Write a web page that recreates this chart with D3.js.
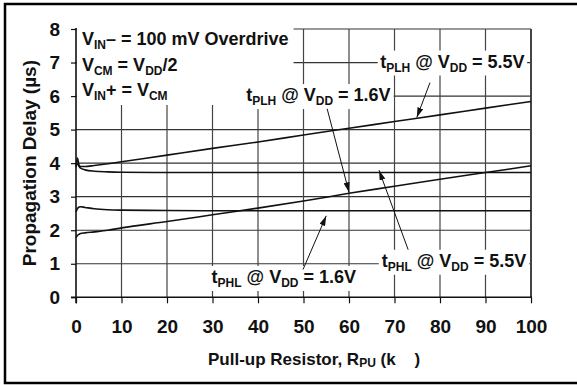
<!DOCTYPE html>
<html>
<head>
<meta charset="utf-8">
<script src="https://cdn.jsdelivr.net/npm/d3@7"></script>
<style>
  body { margin: 0; background: #fff; }
  text { font-family: "Liberation Sans", Arial, sans-serif; font-weight: bold; fill: #111; }
</style>
</head>
<body>
<script>
/* Chart data */
var rpu = [0, 0.3, 0.7, 1, 2, 4, 7, 10, 20, 30, 40, 50, 60, 70, 80, 90, 100];
var tplh55 = [3.88, 4.15, 3.93, 3.9, 3.9, 3.93, 3.98, 4.04, 4.24, 4.44, 4.63, 4.84, 5.04, 5.24, 5.44, 5.64, 5.84];
var tphl55 = [4.0, 3.98, 3.9, 3.85, 3.8, 3.76, 3.74, 3.73, 3.72, 3.72, 3.72, 3.72, 3.72, 3.72, 3.72, 3.72, 3.72];
var tplh16 = [1.78, 1.84, 1.88, 1.9, 1.92, 1.95, 2.0, 2.07, 2.26, 2.46, 2.66, 2.87, 3.1, 3.31, 3.52, 3.72, 3.92];
var tphl16 = [2.55, 2.64, 2.69, 2.7, 2.68, 2.64, 2.61, 2.6, 2.59, 2.58, 2.58, 2.58, 2.58, 2.58, 2.58, 2.58, 2.58];
var xTicks = [0, 10, 20, 30, 40, 50, 60, 70, 80, 90, 100];
var yTicks = [0, 1, 2, 3, 4, 5, 6, 7, 8];

/* Display setup */
var width = 577, height = 385,
	plot = {left: 76, right: 531, top: 29, bottom: 297.3},
	x = d3.scaleLinear().domain([0, 100]).range([plot.left, plot.right]),
	y = d3.scaleLinear().domain([0, 8]).range([plot.bottom, plot.top]),
	svg = d3.select("body").append("svg")
		.attr("width", width)
		.attr("height", height);

// outer frame (right side runs off the picture)
svg.append("rect")
	.attr("x", 5).attr("y", 4).attr("width", 590).attr("height", 379)
	.style("fill", "none").style("stroke", "#000").style("stroke-width", 2.5);

var arrow = svg.append("defs").append("marker")
	.attr("id", "arrow")
	.attr("viewBox", "0 0 10 6")
	.attr("refX", 10).attr("refY", 3)
	.attr("markerWidth", 10).attr("markerHeight", 6)
	.attr("markerUnits", "userSpaceOnUse")
	.attr("orient", "auto");
arrow.append("path").attr("d", "M0,0L10,3L0,6Z").style("fill", "#111");

/* Grid */
var grid = svg.append("g");
grid.selectAll("line.h")
	.data(yTicks.slice(1))
	.enter().append("line")
		.attr("x1", plot.left).attr("x2", plot.right)
		.attr("y1", function(d) { return y(d); })
		.attr("y2", function(d) { return y(d); })
		.style("stroke", "#333").style("stroke-width", 1.2);
grid.selectAll("line.v")
	.data(xTicks.slice(1))
	.enter().append("line")
		.attr("x1", function(d) { return x(d); })
		.attr("x2", function(d) { return x(d); })
		.attr("y1", plot.top).attr("y2", plot.bottom)
		.style("stroke", "#444")
		.style("stroke-width", function(d) { return d == 100 ? 2 : 1.2; });

/* Labels with subscripts, on a white patch that hides the grid */
function richText(parent, parts, px, py, anchor) {
	var t = parent.append("text")
		.attr("x", px).attr("y", py)
		.attr("text-anchor", anchor || "start")
		.style("font-size", "18px");
	var shifted = false;
	parts.forEach(function(p) {
		var sub = p.charAt(0) == "_";
		var s = t.append("tspan").text(sub ? p.slice(1) : p);
		if (sub) { s.style("font-size", "12px").attr("dy", shifted ? 0 : 4); shifted = true; }
		else if (shifted) { s.attr("dy", -4); shifted = false; }
	});
	return t;
}
function whitePatch(g, padX, padY) {
	var b = g.node().getBBox();
	g.insert("rect", ":first-child")
		.attr("x", b.x - padX).attr("y", b.y - padY)
		.attr("width", b.width + 2 * padX).attr("height", b.height + 2 * padY)
		.style("fill", "#fff");
}

var labels = svg.append("g");

var cond = labels.append("g");
richText(cond, ["V", "_IN", "– = 100 mV Overdrive"], x(1.3), 45);
richText(cond, ["V", "_CM", " = V", "_DD", "/2"], x(1.3), 70.5);
richText(cond, ["V", "_IN", "+ = V", "_CM"], x(1.3), 96);
whitePatch(cond, 5, 2);

var lab1 = labels.append("g");
richText(lab1, ["t", "_PLH", " @ V", "_DD", " = 5.5V"], x(98.6), y(7) + 5, "end");
whitePatch(lab1, 2.5, 1);

var lab2 = labels.append("g");
richText(lab2, ["t", "_PLH", " @ V", "_DD", " = 1.6V"], x(37.4), y(6) + 5);
whitePatch(lab2, 3, 1);

var lab3 = labels.append("g");
richText(lab3, ["t", "_PHL", " @ V", "_DD", " = 5.5V"], x(67.2), y(1) + 3);
whitePatch(lab3, 3, 1);

var lab4 = labels.append("g");
richText(lab4, ["t", "_PHL", " @ V", "_DD", " = 1.6V"], x(29.8), 283);
whitePatch(lab4, 3, 1);

/* Axes */
var xAxis = svg.append("g")
	.attr("transform", "translate(0," + plot.bottom + ")")
	.call(d3.axisBottom(x).tickValues(xTicks).tickSize(6).tickPadding(16));
var yAxis = svg.append("g")
	.attr("transform", "translate(" + plot.left + ",0)")
	.call(d3.axisLeft(y).tickValues(yTicks).tickSize(5).tickPadding(11));
[xAxis, yAxis].forEach(function(a) {
	a.select(".domain").remove();
	a.selectAll("line").style("stroke", "#111").style("stroke-width", 1.2);
	a.selectAll("text").attr("font-family", null).style("font-size", "19px").style("fill", "#111");
});
svg.append("line")
	.attr("x1", plot.left - 5).attr("x2", plot.right + 1)
	.attr("y1", plot.bottom).attr("y2", plot.bottom)
	.style("stroke", "#111").style("stroke-width", 1.6);
svg.append("line")
	.attr("x1", plot.left).attr("x2", plot.left)
	.attr("y1", plot.top - 1).attr("y2", plot.bottom + 6)
	.style("stroke", "#111").style("stroke-width", 1.6);

// axis titles
var xt = svg.append("text")
	.attr("x", 208).attr("y", 365)
	.style("font-size", "17px")
	.style("white-space", "pre");
xt.append("tspan").text("Pull-up Resistor, R");
xt.append("tspan").text("PU").style("font-size", "12px").attr("dy", 2);
xt.append("tspan").text(" (k    )").attr("dy", -2);

svg.append("text")
	.attr("transform", "translate(36," + y(4) + ") rotate(-90)")
	.attr("text-anchor", "middle")
	.style("font-size", "19px")
	.text("Propagation Delay (µs)");

/* Curves */
var line = d3.line()
	.x(function(d) { return x(d[0]); })
	.y(function(d) { return y(d[1]); })
	.curve(d3.curveMonotoneX);
[tplh55, tphl55, tplh16, tphl16].forEach(function(s) {
	svg.append("path")
		.datum(d3.zip(rpu, s))
		.attr("d", line)
		.style("fill", "none")
		.style("stroke", "#111")
		.style("stroke-width", 1.6);
});

/* Arrows from labels to curves */
var arrows = [
	[[77.8, 6.4], [74.9, 5.36]],
	[[55.2, 5.62], [60, 3.13]],
	[[73, 1.42], [66.6, 3.79]],
	[[49.9, 0.83], [55, 2.43]]
];
svg.selectAll("line.arrow")
	.data(arrows)
	.enter().append("line")
		.attr("x1", function(d) { return x(d[0][0]); })
		.attr("y1", function(d) { return y(d[0][1]); })
		.attr("x2", function(d) { return x(d[1][0]); })
		.attr("y2", function(d) { return y(d[1][1]); })
		.attr("marker-end", "url(#arrow)")
		.style("stroke", "#111").style("stroke-width", 1);
</script>
</body>
</html>
